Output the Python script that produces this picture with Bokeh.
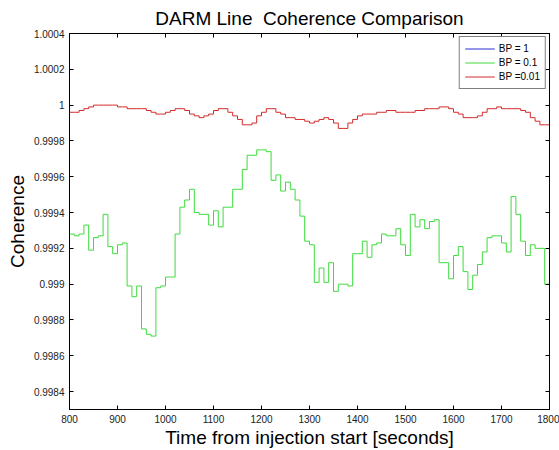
import numpy as np
from bokeh.plotting import figure
from bokeh.models import (Range1d, FixedTicker, CustomJSTickFormatter, LinearAxis, Legend,
                          LegendItem, CDSView, IndexFilter, ColumnDataSource)
from bokeh.embed import file_html
from bokeh.resources import INLINE

# time stamps (s) of each coherence estimate
time_s = list(range(790, 1810, 10))

# BP = 0.1 (green)
coh_bp01 = [
    0.99940,
    0.99928, 0.99927, 0.99928, 0.99933, 0.99919, 0.99926, 0.99927, 0.99939, 0.99921, 0.99917,
    0.99922, 0.99923, 0.99899, 0.99893, 0.99899, 0.99875, 0.99872, 0.99871, 0.99898, 0.99899,
    0.99904, 0.99904, 0.99928, 0.99943, 0.99947, 0.99953, 0.99940, 0.99939, 0.99939, 0.99933,
    0.99941, 0.99932, 0.99943, 0.99943, 0.99953, 0.99953, 0.99964, 0.99972, 0.99972, 0.99975,
    0.99975, 0.99974, 0.99958, 0.99961, 0.99952, 0.99957, 0.99953, 0.99947, 0.99938, 0.99924,
    0.99922, 0.99901, 0.99909, 0.99901, 0.99912, 0.99896, 0.99900, 0.99900, 0.99899, 0.99917,
    0.99917, 0.99924, 0.99915, 0.99922, 0.99923, 0.99928, 0.99927, 0.99927, 0.99931, 0.99922,
    0.99916, 0.99939, 0.99932, 0.99936, 0.99931, 0.99935, 0.99936, 0.99912, 0.99912, 0.99903,
    0.99916, 0.99921, 0.99907, 0.99897, 0.99905, 0.99911, 0.99918, 0.99926, 0.99927, 0.99927,
    0.99923, 0.99918, 0.99949, 0.99939, 0.99924, 0.99916, 0.99922, 0.99920, 0.99920, 0.99900,
    0.99900,
]

# BP = 0.01 (red)
coh_bp001 = [
    0.99996,
    0.99996, 0.99996, 0.99997, 0.99998, 0.99999, 1.00000, 1.00000, 1.00000, 1.00000, 1.00000,
    0.99999, 0.99999, 0.99998, 0.99998, 0.99998, 0.99998, 0.99997, 0.99996, 0.99995, 0.99995,
    0.99996, 0.99997, 0.99998, 0.99998, 0.99997, 0.99995, 0.99994, 0.99993, 0.99994, 0.99995,
    0.99997, 0.99998, 0.99998, 0.99996, 0.99994, 0.99992, 0.99989, 0.99989, 0.99990, 0.99994,
    0.99996, 0.99998, 0.99998, 0.99996, 0.99995, 0.99993, 0.99993, 0.99992, 0.99992, 0.99991,
    0.99990, 0.99991, 0.99992, 0.99993, 0.99992, 0.99990, 0.99987, 0.99987, 0.99990, 0.99992,
    0.99994, 0.99995, 0.99995, 0.99995, 0.99996, 0.99996, 0.99997, 0.99997, 0.99996, 0.99996,
    0.99996, 0.99996, 0.99997, 0.99997, 0.99998, 0.99998, 0.99998, 0.99999, 0.99999, 0.99998,
    0.99996, 0.99995, 0.99993, 0.99993, 0.99993, 0.99994, 0.99996, 0.99998, 0.99998, 0.99999,
    0.99998, 0.99998, 0.99998, 0.99998, 0.99997, 0.99996, 0.99993, 0.99991, 0.99989, 0.99989,
    0.99989,
]

# BP = 1 (blue) lies fully underneath the red trace in the original
coh_bp1 = list(coh_bp001)

series_labels = ["BP = 1", "BP = 0.1", "BP =0.01"]
series_colors = ["#2a2ad8", "#3ddc3d", "#d42a2a"]

x_ticks = [800, 900, 1000, 1100, 1200, 1300, 1400, 1500, 1600, 1700, 1800]
y_ticks = [0.9984, 0.9986, 0.9988, 0.9990, 0.9992, 0.9994, 0.9996, 0.9998, 1.0000, 1.0002, 1.0004]

FONT = "Liberation Sans"

p = figure(width=559, height=450, output_backend="svg", toolbar_location=None,
           x_range=Range1d(800, 1800), y_range=Range1d(0.9983, 1.0004),
           x_axis_type=None, y_axis_type=None,
           min_border_left=69, min_border_right=10, min_border_top=33, min_border_bottom=39)
p.background_fill_color = "white"
p.border_fill_color = "white"
p.outline_line_color = "black"
p.outline_line_width = 1
p.grid.visible = False

fmt = CustomJSTickFormatter(code="return (Math.round(tick*1e4)/1e4).toString();")

def style_axis(ax, labels=True):
    ax.major_tick_in = 4
    ax.major_tick_out = 0
    ax.minor_tick_in = 0
    ax.minor_tick_out = 0
    ax.axis_line_color = "black"
    ax.major_tick_line_color = "black"
    if labels:
        ax.major_label_text_font = FONT
        ax.major_label_text_font_size = "10px"
        ax.major_label_text_color = "#222222"
        ax.major_label_standoff = 5
    else:
        ax.major_label_text_font_size = "0px"
        ax.major_label_text_color = None
        ax.major_label_standoff = 0

xb = LinearAxis(ticker=FixedTicker(ticks=x_ticks), axis_label="Time from injection start [seconds]")
style_axis(xb)
xb.axis_label_text_font = FONT
xb.axis_label_text_font_size = "19px"
xb.axis_label_text_font_style = "normal"
xb.axis_label_text_color = "black"
xb.axis_label_standoff = 1
p.add_layout(xb, "below")

yl = LinearAxis(ticker=FixedTicker(ticks=y_ticks), formatter=fmt, axis_label="Coherence")
style_axis(yl)
yl.axis_label_text_font = FONT
yl.axis_label_text_font_size = "19px"
yl.axis_label_text_font_style = "normal"
yl.axis_label_text_color = "black"
yl.axis_label_standoff = 3
p.add_layout(yl, "left")

xt = LinearAxis(ticker=FixedTicker(ticks=x_ticks))
style_axis(xt, labels=False)
p.add_layout(xt, "above")

yr = LinearAxis(ticker=FixedTicker(ticks=y_ticks))
style_axis(yr, labels=False)
p.add_layout(yr, "right")

p.title.text = "DARM Line\u00a0 Coherence Comparison"
p.title.text_font = FONT
p.title.text_font_size = "19px"
p.title.text_font_style = "normal"
p.title.align = "center"
p.title.text_color = "black"

src_bp1 = ColumnDataSource(data=dict(t=time_s, c=coh_bp1))
# blue series is drawn but completely hidden beneath the red one, as in the original
r_bp1 = p.step("t", "c", source=src_bp1, mode="after", line_color=series_colors[0],
               line_width=1, line_alpha=0)
r_bp01 = p.step(time_s, coh_bp01, mode="after", line_color=series_colors[1], line_width=1)
r_bp001 = p.step(time_s, coh_bp001, mode="after", line_color=series_colors[2], line_width=1)
# legend swatch for the blue series (a single off-range sample, so nothing shows in the plot)
r_bp1_key = p.step("t", "c", source=src_bp1, mode="after", line_color=series_colors[0],
                   line_width=1, view=CDSView(filter=IndexFilter(indices=[0])))

legend = Legend(items=[LegendItem(label=series_labels[0], renderers=[r_bp1_key]),
                       LegendItem(label=series_labels[1], renderers=[r_bp01]),
                       LegendItem(label=series_labels[2], renderers=[r_bp001])],
                location="top_right")
legend.border_line_color = "black"
legend.border_line_width = 1
legend.background_fill_color = "white"
legend.label_text_font = FONT
legend.label_text_font_size = "10px"
legend.label_text_color = "black"
legend.glyph_width = 30
legend.glyph_height = 13
legend.label_height = 13
legend.label_standoff = 4
legend.spacing = 1
legend.padding = 5
legend.margin = 3
p.add_layout(legend)

open("out.html", "w").write(file_html(p, INLINE))
